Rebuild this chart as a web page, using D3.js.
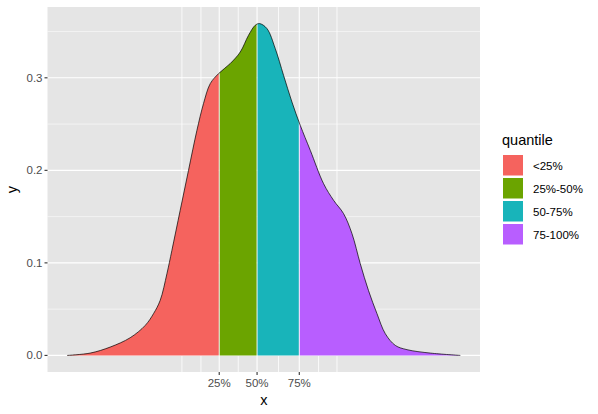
<!DOCTYPE html>
<head>
  <meta charset="utf-8">
  <style>
    body { margin: 0; background: #fff; }
    text { font-family: "Liberation Sans", Arial, sans-serif; }
    .tick-label { font-size: 11.5px; fill: #4d4d4d; }
    .axis-title { font-size: 14.5px; fill: #000; }
    .legend-label { font-size: 11.5px; fill: #000; }
  </style>
  <script src="https://d3js.org/d3.v7.min.js"></script>
</head>
<body>
  <script>
    // density curve
    var xs = [-4.0, -3.532, -3.125, -2.718, -2.412, -2.243, -2.107, -1.970, -1.869, -1.700,
              -1.531, -1.360, -1.226, -1.089, -0.920, -0.682, -0.478, -0.310, -0.173, -0.085,
              0.065, 0.234, 0.403, 0.574, 0.743, 0.947, 1.217, 1.421, 1.624, 1.795,
              1.964, 2.130, 2.304, 2.473, 2.677, 2.915, 3.389, 4.0];
    var ys = [0.0, 0.0025, 0.0090, 0.0191, 0.0324, 0.0451, 0.0595, 0.0883, 0.1135, 0.1568,
              0.2000, 0.2432, 0.2721, 0.2937, 0.3045, 0.3154, 0.3279, 0.3459, 0.3568, 0.3586,
              0.3532, 0.3316, 0.3027, 0.2738, 0.2486, 0.2216, 0.1856, 0.1676, 0.1532, 0.1316,
              0.0991, 0.0703, 0.0451, 0.0235, 0.0108, 0.0062, 0.0025, 0.0];

    var quantiles = [-0.906, -0.136, 0.723];
    var quantileLabels = ["25%", "50%", "75%"];
    var xMinor = [-1.665, -1.278, -0.519, 0.301, 1.115, 1.490];
    var yMajor = [0, 0.1, 0.2, 0.3];
    var yMinor = [0.05, 0.15, 0.25, 0.35];

    var groups = ["<25%", "25%-50%", "50-75%", "75-100%"];
    var colors = ["#f5635e", "#6ba400", "#18b4ba", "#b85eff"];

    var w = 598, h = 414;
    var panel = { left: 47.5, right: 480, top: 7, bottom: 372 };

    var data = xs.map(function(d, i) { return { x: d, y: ys[i] }; });

    var xMin = d3.min(xs), xMax = d3.max(xs);
    var xPad = (xMax - xMin) * 0.05;
    var xScale = d3.scaleLinear()
                   .domain([xMin - xPad, xMax + xPad])
                   .range([panel.left, panel.right]);

    var yMax = d3.max(ys);
    var yPad = yMax * 0.05;
    var yScale = d3.scaleLinear()
                   .domain([-yPad, yMax + yPad])
                   .range([panel.bottom, panel.top]);

    var svg = d3.select("body")
                .append("svg")
                .attr("width", w)
                .attr("height", h);

    // panel background
    svg.append("rect")
       .attr("x", panel.left)
       .attr("y", panel.top)
       .attr("width", panel.right - panel.left)
       .attr("height", panel.bottom - panel.top)
       .attr("fill", "#e5e5e5");

    // grid lines
    svg.selectAll("line.yminor")
       .data(yMinor).enter().append("line")
       .attr("x1", panel.left).attr("x2", panel.right)
       .attr("y1", function(d) { return yScale(d); })
       .attr("y2", function(d) { return yScale(d); })
       .attr("stroke", "#fff").attr("stroke-width", 0.55);

    svg.selectAll("line.xminor")
       .data(xMinor).enter().append("line")
       .attr("y1", panel.top).attr("y2", panel.bottom)
       .attr("x1", function(d) { return xScale(d); })
       .attr("x2", function(d) { return xScale(d); })
       .attr("stroke", "#fff").attr("stroke-width", 0.8);

    svg.selectAll("line.ymajor")
       .data(yMajor).enter().append("line")
       .attr("x1", panel.left).attr("x2", panel.right)
       .attr("y1", function(d) { return yScale(d); })
       .attr("y2", function(d) { return yScale(d); })
       .attr("stroke", "#fff").attr("stroke-width", 1.1);

    svg.selectAll("line.xmajor")
       .data(quantiles).enter().append("line")
       .attr("y1", panel.top).attr("y2", panel.bottom)
       .attr("x1", function(d) { return xScale(d); })
       .attr("x2", function(d) { return xScale(d); })
       .attr("stroke", "#fff").attr("stroke-width", 1.1);

    // filled segments, each clipped to its quantile band
    var curve = d3.curveCatmullRom.alpha(0.5);

    var area = d3.area()
                 .x(function(d) { return xScale(d.x); })
                 .y0(yScale(0))
                 .y1(function(d) { return yScale(d.y); })
                 .curve(curve);

    var bounds = [xMin].concat(quantiles).concat([xMax]);
    var defs = svg.append("defs");

    groups.forEach(function(g, i) {
      var lo = xScale(bounds[i]) + (i > 0 ? 0.5 : 0);
      var hi = xScale(bounds[i + 1]) - (i < groups.length - 1 ? 0.5 : 0);
      defs.append("clipPath")
          .attr("id", "clip" + i)
          .append("rect")
          .attr("x", lo).attr("y", panel.top)
          .attr("width", hi - lo)
          .attr("height", panel.bottom - panel.top);

      svg.append("path")
         .datum(data)
         .attr("d", area)
         .attr("fill", colors[i])
         .attr("clip-path", "url(#clip" + i + ")");
    });

    // outline on top
    var line = d3.line()
                 .x(function(d) { return xScale(d.x); })
                 .y(function(d) { return yScale(d.y); })
                 .curve(curve);

    svg.append("path")
       .datum(data)
       .attr("d", line)
       .attr("fill", "none")
       .attr("stroke", "#000")
       .attr("stroke-width", 0.7);

    // y axis
    svg.selectAll("line.ytick")
       .data(yMajor).enter().append("line")
       .attr("x1", panel.left - 3).attr("x2", panel.left)
       .attr("y1", function(d) { return yScale(d); })
       .attr("y2", function(d) { return yScale(d); })
       .attr("stroke", "#333").attr("stroke-width", 1.1);

    svg.selectAll("text.ylab")
       .data(yMajor).enter().append("text")
       .attr("class", "tick-label")
       .attr("x", panel.left - 5)
       .attr("y", function(d) { return yScale(d) + 4; })
       .attr("text-anchor", "end")
       .text(function(d) { return d3.format(".1f")(d); });

    // x axis
    svg.selectAll("line.xtick")
       .data(quantiles).enter().append("line")
       .attr("y1", panel.bottom).attr("y2", panel.bottom + 3)
       .attr("x1", function(d) { return xScale(d); })
       .attr("x2", function(d) { return xScale(d); })
       .attr("stroke", "#333").attr("stroke-width", 1.1);

    svg.selectAll("text.xlab")
       .data(quantiles).enter().append("text")
       .attr("class", "tick-label")
       .attr("x", function(d) { return xScale(d); })
       .attr("y", panel.bottom + 15)
       .attr("text-anchor", "middle")
       .text(function(d, i) { return quantileLabels[i]; });

    svg.append("text")
       .attr("class", "axis-title")
       .attr("x", (panel.left + panel.right) / 2)
       .attr("y", 405)
       .attr("text-anchor", "middle")
       .text("x");

    svg.append("text")
       .attr("class", "axis-title")
       .attr("transform", "translate(17," + ((panel.top + panel.bottom) / 2) + ") rotate(-90)")
       .attr("text-anchor", "middle")
       .text("y");

    // legend
    var legend = svg.append("g").attr("transform", "translate(502,0)");
    legend.append("text")
          .attr("class", "axis-title")
          .attr("x", 0).attr("y", 145)
          .text("quantile");

    legend.selectAll("rect")
          .data(groups).enter().append("rect")
          .attr("x", 0.5)
          .attr("y", function(d, i) { return 154.5 + i * 23; })
          .attr("width", 21)
          .attr("height", 21.5)
          .attr("fill", function(d, i) { return colors[i]; })
          .attr("stroke", "#fff")
          .attr("stroke-width", 1);

    legend.selectAll("text.legend-label")
          .data(groups).enter().append("text")
          .attr("class", "legend-label")
          .attr("x", 31)
          .attr("y", function(d, i) { return 169.5 + i * 23; })
          .text(function(d) { return d; });
  </script>
</body>
